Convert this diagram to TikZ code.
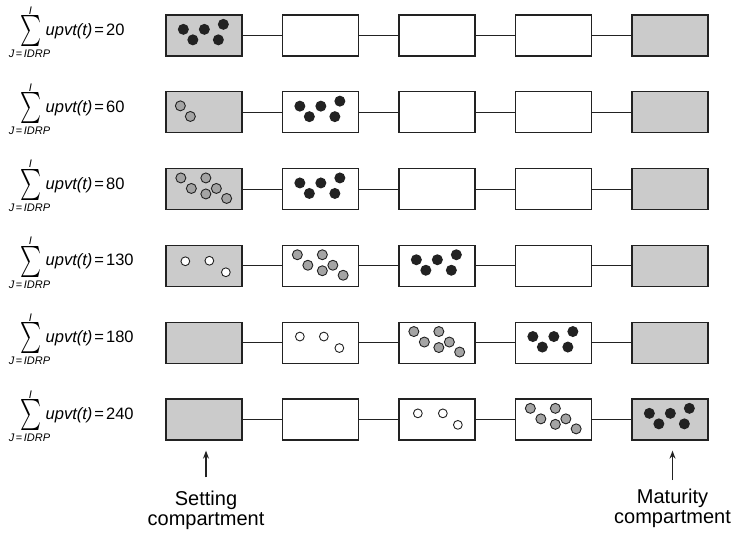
\documentclass[tikz,border=0pt]{standalone}
\usepackage{graphicx}
\usepackage{fontspec}
\setmainfont{Liberation Sans}
\usetikzlibrary{calc,arrows.meta}
\definecolor{boxgray}{HTML}{CBCBCB}
\definecolor{dotgray}{HTML}{A4A4A4}
\definecolor{ink}{HTML}{222222}
\newcommand\blackdots[1]{%
  \foreach \dx/\dy in {18/15,27.5/25.5,39/15,53/25.5,58/10}
    \fill[ink] ($(#1.north west)+(\dx,\dy)$) circle[radius=5.5];}
\newcommand\graydots[1]{%
  \foreach \dx/\dy in {15.5/10,26/20.5,40.5/10,51/20.5,40.5/26,61.3/30.5}
    \filldraw[fill=dotgray,draw=ink,line width=0.9pt] ($(#1.north west)+(\dx,\dy)$) circle[radius=5];}
\newcommand\graytwo[1]{%
  \foreach \dx/\dy in {15/14.7,25/25.3}
    \filldraw[fill=dotgray,draw=ink,line width=0.9pt] ($(#1.north west)+(\dx,\dy)$) circle[radius=5];}
\newcommand\whitedots[2]{%
  \foreach \dx/\dy in {#2}
    \filldraw[fill=white,draw=ink,line width=0.9pt] ($(#1.north west)+(\dx,\dy)$) circle[radius=4.4];}
\begin{document}
\begin{tikzpicture}[x=1pt,y=-1pt,
  comp/.style={draw=ink,line width=1.3pt,minimum width=76pt,minimum height=41pt,inner sep=0pt,fill=white},
  endcomp/.style={comp,fill=boxgray},
  link/.style={draw=ink,line width=0.9pt},
  lab/.style={anchor=base west,inner sep=0pt,font=\fontsize{16.5}{18}\selectfont},
  small/.style={inner sep=0pt,font=\fontsize{11}{12}\selectfont},
  caption/.style={inner sep=0pt,align=center,anchor=north,font=\fontsize{20}{20}\selectfont},
  pointer/.style={draw=ink,line width=1.2pt,-{Stealth[length=8pt,width=6pt]}}]
\useasboundingbox (0,0) rectangle (735,532);
\foreach \r/\val in {1/20,2/60,3/80,4/130,5/180,6/240}{
  \pgfmathsetmacro\yc{35.5+76.8*(\r-1)}
  \node[endcomp] (b\r1) at (204,\yc) {};
  \node[comp] (b\r2) at (320.5,\yc) {};
  \node[comp] (b\r3) at (437,\yc) {};
  \node[comp] (b\r4) at (553.5,\yc) {};
  \node[endcomp] (b\r5) at (670,\yc) {};
  \draw[link] (b\r1.east) -- (b\r2.west);
  \draw[link] (b\r2.east) -- (b\r3.west);
  \draw[link] (b\r3.east) -- (b\r4.west);
  \draw[link] (b\r4.east) -- (b\r5.west);
  \node[inner sep=0pt] (sig\r) at (31,\yc-4.4) {\resizebox*{21pt}{31pt}{$\sum$}};
  \node[small] (top\r) at (30.5,\yc-25) {\itshape I};
  \node[small] (bot\r) at (29.5,\yc+18.5) {\itshape J\hspace{1.5pt}\upshape=\hspace{1.5pt}\itshape IDRP};
  \node[lab] (lab\r) at (45.5,\yc) {\itshape upvt(t)\upshape\hspace{2pt}=\hspace{2pt}\val};
}
\blackdots{b11}
\graytwo{b21}\blackdots{b22}
\graydots{b31}\blackdots{b32}
\whitedots{b41}{20/16.5,44/16,60.5/27.5}\graydots{b42}\blackdots{b43}
\whitedots{b52}{18/15,42/15,57.5/26.5}\graydots{b53}\blackdots{b54}
\whitedots{b63}{19.5/15,44.5/15,59.5/26.5}\graydots{b64}\blackdots{b65}
\node[caption] (settext) at (206,490.3) {Setting\\compartment};
\node[caption] (mattext) at (672.5,489) {Maturity\\compartment};
\draw[pointer,shorten <=13pt,shorten >=10pt] (settext.north) -- (settext.north |- b61.south);
\draw[pointer,shorten <=9pt,shorten >=10pt] (mattext.north) -- (mattext.north |- b65.south);
\end{tikzpicture}
\end{document}
